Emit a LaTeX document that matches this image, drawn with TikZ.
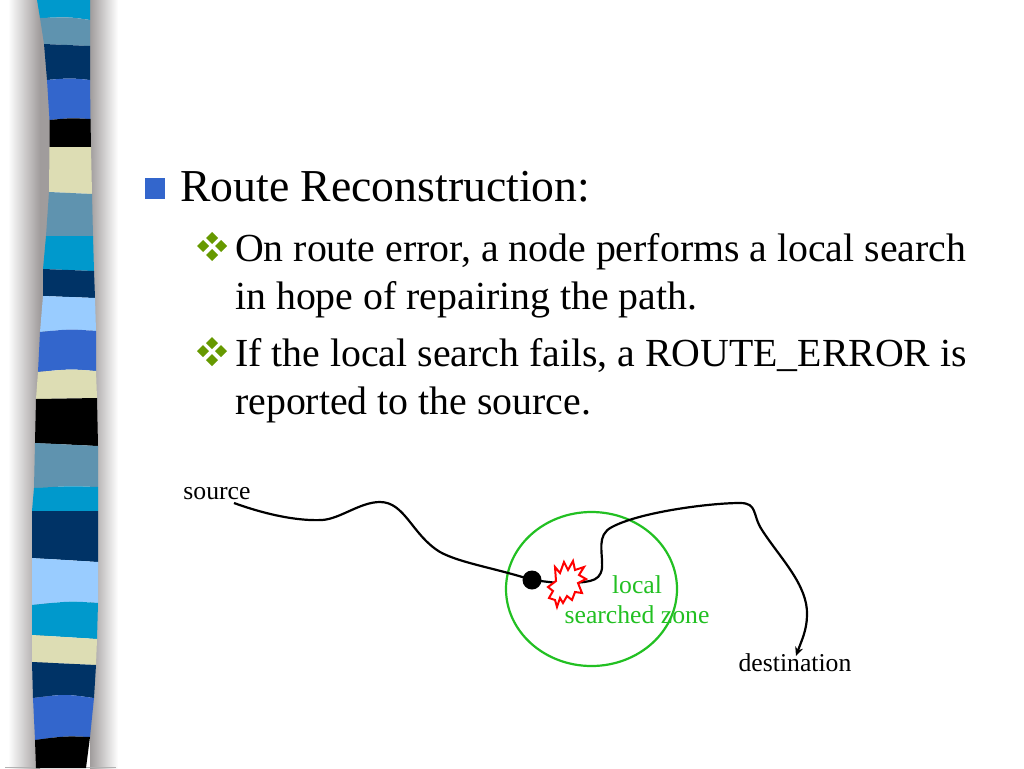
\documentclass[tikz,border=0pt]{standalone}
\usepackage{fontspec}
\setmainfont{Liberation Serif}
\usetikzlibrary{arrows.meta, positioning, shapes.geometric}
\definecolor{bandcyan}{HTML}{0099CC}
\definecolor{bandsteel}{HTML}{5F93AF}
\definecolor{bandnavy}{HTML}{003366}
\definecolor{bandroyal}{HTML}{3366CC}
\definecolor{bandcream}{HTML}{DDDDB4}
\definecolor{bandlight}{HTML}{99CCFF}
\definecolor{shadowgray}{HTML}{A09C9C}
\definecolor{bulletgreen}{HTML}{669900}
\definecolor{zonegreen}{HTML}{22C022}
\tikzset{
    headline/.style={anchor=base west,font=\fontsize{45.7}{48}\selectfont,inner sep=0pt},
    subline/.style={anchor=base west,font=\fontsize{39.8}{48}\selectfont,inner sep=0pt},
    figlabel/.style={font=\fontsize{25.7}{30}\selectfont,inner sep=0pt,anchor=base},
    zonetext/.style={figlabel,text=zonegreen},
    route/.style={line width=2.2pt,black}
}
\begin{document}
\begin{tikzpicture}[x=1pt,y=-1pt]
    \useasboundingbox (0,0) rectangle (1024,768);
    \fill[white] (0,0) rectangle (1024,768);

    % Shadow of the strip
    \shade[left color=white,right color=shadowgray] (8,0) rectangle (40,768);
    \fill[shadowgray] (40,0) rectangle (50,768);
    \shade[left color=shadowgray,right color=white] (90,0) rectangle (118,768);
    \fill[black!30] (5,767) rectangle (116,768);

    % Strip
    \fill[bandcyan] (37,0) -- (90,0) -- (90,20) .. controls (70,17) .. (40,18) -- cycle;
    \fill[bandsteel] (40,18) .. controls (70,17) .. (90,20) -- (90,46) -- (44,44) -- cycle;
    \fill[bandnavy] (44,44) -- (90,46) -- (90,80) .. controls (70,78) .. (47,80) -- cycle;
    \fill[bandroyal] (47,80) .. controls (70,78) .. (90,80) -- (90.5,119) .. controls (70,118) .. (49.5,120) -- cycle;
    \fill[black] (49.5,120) .. controls (70,118) .. (90.5,119) -- (91,147) -- (49.5,147) -- cycle;
    \fill[bandcream] (49.5,147) -- (91,147) -- (92,194) -- (49,192) -- cycle;
    \fill[bandsteel] (49,192) -- (92,194) -- (93,236) -- (46,236) -- cycle;
    \fill[bandcyan] (46,236) -- (93,236) -- (94,271) -- (43,269) -- cycle;
    \fill[bandnavy] (43,269) -- (94,271) -- (95,298) -- (43,296) -- cycle;
    \fill[bandlight] (43,296) -- (95,298) -- (96,331) .. controls (70,329) .. (40,332) -- cycle;
    \fill[bandroyal] (40,332) .. controls (70,329) .. (96,331) -- (96,371) .. controls (70,369) .. (38,372) -- cycle;
    \fill[bandcream] (38,372) .. controls (70,369) .. (96,371) -- (97,398) -- (36,399) -- cycle;
    \fill[black] (36,399) -- (97,398) -- (98,446) -- (35,443) -- cycle;
    \fill[bandsteel] (35,443) -- (98,446) -- (98,487) .. controls (70,486) .. (34,488) -- cycle;
    \fill[bandcyan] (34,488) .. controls (70,486) .. (98,487) -- (98,511) -- (32,511) -- cycle;
    \fill[bandnavy] (32,511) -- (98,511) -- (98,562) -- (32,558) -- cycle;
    \fill[bandlight] (32,558) -- (98,562) -- (98,603) .. controls (70,601) .. (32,605) -- cycle;
    \fill[bandcyan] (32,605) .. controls (70,601) .. (98,603) -- (97,639) -- (32,635) -- cycle;
    \fill[bandcream] (32,635) -- (97,639) -- (96,665) -- (32,662) -- cycle;
    \fill[bandnavy] (32,662) -- (96,665) -- (94,698) .. controls (65,694) .. (33,698) -- cycle;
    \fill[bandroyal] (33,698) .. controls (65,694) .. (94,698) -- (90,737) .. controls (65,736) .. (35,740) -- cycle;
    \fill[black] (35,740) .. controls (65,736) .. (90,737) -- (86,768) -- (36,768) -- cycle;

    % Text
    \fill[bandroyal] (145,178) rectangle (165,199);
    \foreach \xx/\yy in {212/239,212/256,203/247,221/247,212/344,212/361,203/352,221/352}
        \fill[bulletgreen] (\xx-6,\yy-1) -- (\xx,\yy-7) -- (\xx+6,\yy-1) -- (\xx,\yy+5) -- cycle;
    \node[headline] (title) at (180,201) {Route Reconstruction:};
    \node[subline] (firstline) at (235,261) {On route error, a node performs a local search};
    \node[subline] (secondline) at (235,309) {in hope of repairing the path.};
    \node[subline] (thirdline) at (235,366) {If the local search fails, a ROUTE\_ERROR is};
    \node[subline] (fourthline) at (235,414) {reported to the source.};

    % Route figure
    \node[draw=zonegreen,line width=2.2pt,ellipse,minimum width=171pt,minimum height=154pt,inner sep=0pt] (zone) at (591.5,589) {};
    \node[figlabel] (source) at (217,499.5) {source};
    \coordinate (sourceend) at (234,503);
    \node[circle,fill=black,minimum size=19pt,inner sep=0pt] (breakdot) at (532,580) {};
    \node[figlabel] (destination) at (795,671.5) {destination};
    \coordinate (destend) at (796,656);
    \coordinate (burstin) at (566,584);

    \draw[route] (sourceend) .. controls (270,516) and (300,521) .. (322,520)
        .. controls (340,519) and (360,502) .. (380,502)
        .. controls (405,502) and (412,535) .. (440,552)
        .. controls (460,563) and (495,568) .. (breakdot.center) -- (burstin);
    \draw[route,-{Stealth[length=9pt,width=8pt]}] (burstin)
        .. controls (585,581) and (600,584) .. (602,568)
        .. controls (603,552) and (596,535) .. (612,527)
        .. controls (640,512) and (710,503) .. (740,503)
        .. controls (758,503) and (752,515) .. (762,530)
        .. controls (780,558) and (808,585) .. (807,615)
        .. controls (807,630) and (801,642) .. (destend);

    % Burst
    \draw[red,line width=2pt,fill=white] (555,567) -- (560,573) -- (564,562) -- (568,570)
        -- (573,561) -- (575,570) -- (584,567) -- (579,575) -- (586,579) -- (578,583)
        -- (582,593) -- (575,592) -- (572,600) -- (567,596) -- (563,603) -- (560,598)
        -- (557,607) -- (555,600) -- (549,598) -- (553,591) -- (548,587) -- (556,581) -- cycle;

    \node[zonetext] (locallabel) at (637,593.5) {local};
    \node[zonetext] (zonelabel) at (637,623.5) {searched zone};
\end{tikzpicture}
\end{document}
